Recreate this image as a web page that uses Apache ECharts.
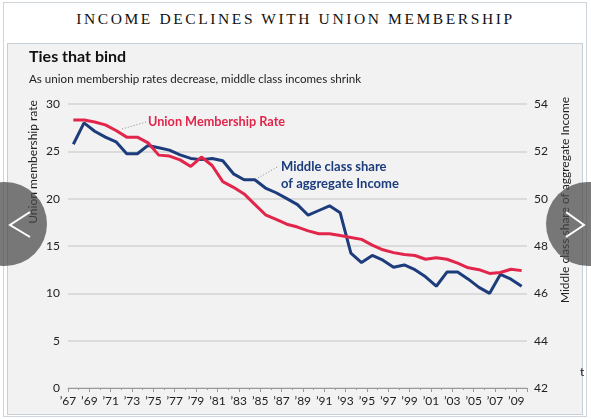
<!DOCTYPE html>
<html>
<head>
<meta charset="utf-8">
<title>Income declines with union membership</title>
<script src="https://cdn.jsdelivr.net/npm/echarts@6/dist/echarts.min.js"></script>
<style>
  html, body { margin: 0; padding: 0; background: #fff; }
  #frame { position: absolute; left: 3px; top: 2px; width: 582px; height: 413px; border: 1px solid #cfd5dc; }
  #panel { position: absolute; left: 7px; top: 43px; width: 574px; height: 370px; background: #f2f2f2; border: 1px solid #c6ced7; }
  #heading { position: absolute; left: 0; top: 10px; width: 591px; text-align: center;
    font-family: "Liberation Serif", serif; font-size: 15.5px; letter-spacing: 2.6px; color: #111; }
  #chart { position: absolute; left: 0; top: 0; width: 591px; height: 419px; }
</style>
</head>
<body>
<div id="frame"></div>
<div id="panel"></div>
<div id="heading">INCOME DECLINES WITH UNION MEMBERSHIP</div>
<div id="chart"></div>
<script>
  // 1967 .. 2009
  const years = [1967, 1968, 1969, 1970, 1971, 1972, 1973, 1974, 1975, 1976,
    1977, 1978, 1979, 1980, 1981, 1982, 1983, 1984, 1985, 1986,
    1987, 1988, 1989, 1990, 1991, 1992, 1993, 1994, 1995, 1996,
    1997, 1998, 1999, 2000, 2001, 2002, 2003, 2004, 2005, 2006,
    2007, 2008, 2009]

  // union membership rate, % (left axis)
  const unionRate = [28.3, 28.3, 28.1, 27.8, 27.2, 26.5, 26.5, 25.9, 24.6, 24.5,
    24.1, 23.4, 24.4, 23.5, 21.8, 21.2, 20.5, 19.4, 18.3, 17.8,
    17.3, 17.0, 16.6, 16.3, 16.3, 16.1, 15.9, 15.7, 15.1, 14.6,
    14.3, 14.1, 14.0, 13.6, 13.75, 13.6, 13.2, 12.7, 12.5, 12.1,
    12.2, 12.55, 12.4]

  // middle class share of aggregate income, % (right axis)
  const middleShare = [52.3, 53.2, 52.85, 52.6, 52.4, 51.9, 51.9, 52.25, 52.15, 52.05,
    51.85, 51.7, 51.65, 51.7, 51.6, 51.05, 50.8, 50.8, 50.45, 50.25,
    50.0, 49.75, 49.3, 49.5, 49.7, 49.4, 47.7, 47.3, 47.6, 47.4,
    47.1, 47.2, 47.0, 46.7, 46.3, 46.9, 46.9, 46.6, 46.25, 46.0,
    46.8, 46.6, 46.3]

  const firstYear = 1967
  const lastYear = 2010
  const leftTicks = [0, 30, 5]    // min, max, step
  const rightTicks = [42, 54, 2]

  const RED = '#e2264b'
  const NAVY = '#1c3c7c'
  const SANS = 'Lato, "Open Sans", sans-serif'

  // points sit in the middle of each year
  const toPoints = vals => years.map((y, i) => [y - firstYear + 0.5, vals[i]])

  const chart = echarts.init(document.getElementById('chart'))

  chart.setOption({
    animation: false,
    textStyle: { fontFamily: SANS },
    title: [{
      text: 'Ties that bind',
      left: 24, top: 44,
      textStyle: { fontSize: 16, fontWeight: 'bold', color: '#111', fontFamily: SANS }
    }, {
      text: 'As union membership rates decrease, middle class incomes shrink',
      left: 24, top: 68,
      textStyle: { fontSize: 11.6, fontWeight: 'normal', color: '#222', fontFamily: SANS }
    }],
    grid: { left: 68, right: 64, top: 104, bottom: 31 },
    xAxis: {
      type: 'value',
      min: 0,
      max: lastYear - firstYear,
      interval: 2,
      axisLine: { show: true, lineStyle: { color: '#9a9a9a', width: 1 } },
      axisTick: { show: true, length: 4, lineStyle: { color: '#9a9a9a' } },
      minorTick: { show: true, splitNumber: 2, length: 2, lineStyle: { color: '#9a9a9a' } },
      splitLine: { show: false },
      axisLabel: {
        margin: 7,
        color: '#222',
        fontSize: 12,
        formatter: v => '\u2019' + String((firstYear + v) % 100).padStart(2, '0')
      }
    },
    yAxis: [{
      type: 'value',
      min: leftTicks[0], max: leftTicks[1], interval: leftTicks[2],
      axisLine: { show: false },
      axisTick: { show: false },
      axisLabel: { color: '#222', fontSize: 12, margin: 8 },
      splitLine: { lineStyle: { color: '#d3d3d3', width: 1.5 } }
    }, {
      type: 'value',
      position: 'right',
      min: rightTicks[0], max: rightTicks[1], interval: rightTicks[2],
      axisLine: { show: false },
      axisTick: { show: false },
      axisLabel: { color: '#222', fontSize: 12, margin: 7 },
      splitLine: { show: false }
    }],
    series: [{
      name: 'Middle class share of aggregate Income',
      type: 'line',
      yAxisIndex: 1,
      data: toPoints(middleShare),
      symbol: 'none',
      lineStyle: { color: NAVY, width: 3 },
      z: 3
    }, {
      name: 'Union Membership Rate',
      type: 'line',
      yAxisIndex: 0,
      data: toPoints(unionRate),
      symbol: 'none',
      lineStyle: { color: RED, width: 3 },
      z: 4
    }],
    graphic: [
      // axis names
      { type: 'text', x: 33, y: 162, rotation: Math.PI / 2,
        style: { text: 'Union membership rate', fill: '#222', font: '12px ' + SANS,
          textAlign: 'center', textVerticalAlign: 'middle' } },
      { type: 'text', x: 565, y: 200, rotation: Math.PI / 2,
        style: { text: 'Middle class share of aggregate Income', fill: '#222', font: '12px ' + SANS,
          textAlign: 'center', textVerticalAlign: 'middle' } },
      { type: 'text', x: 580, y: 372,
        style: { text: 't', fill: '#222', font: '12px ' + SANS, textVerticalAlign: 'middle' } },
      // series labels
      { type: 'polyline', shape: { points: [[122, 129], [146, 122]] },
        style: { stroke: '#888', lineWidth: 1, lineDash: [1, 2], fill: null } },
      { type: 'text', x: 148, y: 122,
        style: { text: 'Union Membership Rate', fill: RED, font: 'bold 12.7px ' + SANS,
          textVerticalAlign: 'middle' } },
      { type: 'polyline', shape: { points: [[258, 178], [279, 166]] },
        style: { stroke: '#888', lineWidth: 1, lineDash: [1, 2], fill: null } },
      { type: 'text', x: 281, y: 167,
        style: { text: 'Middle class share', fill: NAVY, font: 'bold 13px ' + SANS,
          textVerticalAlign: 'middle' } },
      { type: 'text', x: 281, y: 184,
        style: { text: 'of aggregate Income', fill: NAVY, font: 'bold 13px ' + SANS,
          textVerticalAlign: 'middle' } },
      // carousel arrows over the picture
      { type: 'circle', shape: { cx: 5, cy: 224, r: 42 },
        style: { fill: 'rgba(70,70,70,0.72)' }, z: 100 },
      { type: 'polyline', shape: { points: [[30, 212], [10, 225], [30, 237]] },
        style: { stroke: '#fff', lineWidth: 2, fill: null }, z: 101 },
      { type: 'circle', shape: { cx: 588, cy: 224, r: 42 },
        style: { fill: 'rgba(70,70,70,0.72)' }, z: 100 },
      { type: 'polyline', shape: { points: [[566, 212], [584, 225], [566, 237]] },
        style: { stroke: '#fff', lineWidth: 2, fill: null }, z: 101 }
    ]
  })
</script>
</body>
</html>
